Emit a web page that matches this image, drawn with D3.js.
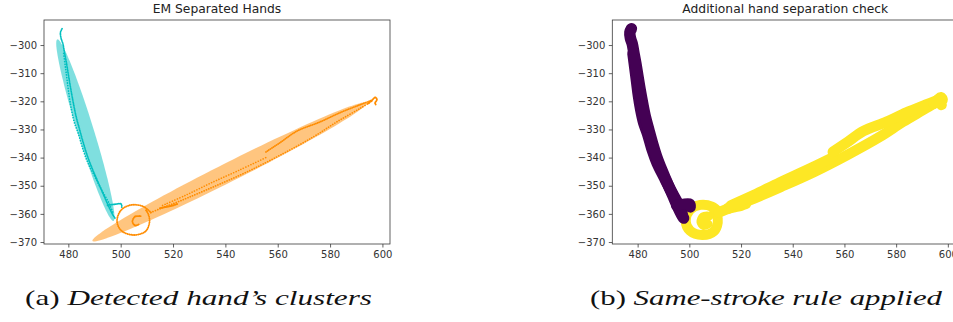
<!DOCTYPE html>
<html><head><meta charset="utf-8">
<script src="https://cdn.jsdelivr.net/npm/d3@7"></script>
<style>body{margin:0;background:#fff}svg{display:block}</style>
</head><body>
<svg id="c" width="953" height="322"></svg>
<script>
// ---------- data ----------
const xTicks = [480, 500, 520, 540, 560, 580, 600];
const yTicks = [-300, -310, -320, -330, -340, -350, -360, -370];
const titles = ["EM Separated Hands", "Additional hand separation check"];
const captionLabels = ["(a) ", "(b) "];
const captionTexts = ["Detected hand\u2019s clusters", "Same-stroke rule applied"];

// hand 1 (cyan / purple) strokes: [x, y]
const hand1Main = [[477.6,-294.2],[477.0,-295.5],[477.2,-297.5],[477.9,-299.5],[478.5,-302.5],[479.3,-306.5],[480.1,-311],[481.0,-316],[482.0,-321],[483.0,-325.5],[484.3,-330],[485.8,-335],[487.5,-340],[489.4,-344.5],[491.5,-349],[493.6,-353.5],[495.5,-357.5],[497.0,-360.3],[497.8,-361.5]];
const hand1Side = [[478.2,-303],[478.9,-308],[479.6,-313],[480.3,-318],[481.2,-323],[482.3,-327.5],[483.8,-331.4],[485.7,-337.4],[487.6,-342.1],[490.2,-346.9],[492.8,-351.6],[495.3,-355.8],[497.2,-359.9]];
const hand1Branch = [[495.0,-357.0],[497.5,-356.6],[500.2,-356.5],[500.4,-357.6]];

// hand 2 (orange / yellow) strokes
const hand2Loop = [[511.5,-359.5],[508.7,-357.4],[504.2,-356.8],[500.2,-358.6],[498.6,-362.6],[500.3,-366.0],[505.0,-367.5],[509.5,-366.2],[511.0,-363.0],[510.6,-360.2],[509.5,-358.5]];
const hand2Inner = [[507.6,-360.8],[505.4,-361.0],[504.5,-362.8],[505.5,-364.1],[507.2,-363.6]];
const hand2Dense = [[515.0,-358.0],[517.5,-357.5],[520.0,-357.0],[521.8,-356.4]];
const hand2Lower = [[511.5,-359.5],[516,-357.8],[522.7,-355.4],[535.4,-350.4],[548.2,-345.1],[561,-339.1],[573.7,-332.6],[582.6,-327.3],[591.5,-322.5],[596.6,-319.6]];
const hand2Mid = [[516,-357.0],[525,-353.3],[535,-348.8],[545,-344.6],[555.5,-340]];
const hand2Upper = [[555.5,-338.0],[561,-334.6],[567.3,-330.6],[576.2,-327.3],[583.9,-324.0],[591.5,-321.2],[596,-319.6]];
const hand2Hook = [[594.5,-320.8],[596.0,-319.6],[597.3,-318.6],[597.9,-319.4],[597.2,-320.6],[597.5,-321.2]];

// Gaussian cluster ellipses (data units): centre, semi-axes, angle in degrees
const ellipseCentres = [[486.5,-330.25],[541.65,-345.05]];
const ellipseAxes = [[34.0,3.1],[57.9,3.45]];
const ellipseAngles = [-71.6, 25.08];

// ---------- drawing ----------
const svg = d3.select("#c");
const panels = [
  {x0:44, x1:390, y0:20, y1:244, xd:[470.7,602.9]},
  {x0:612.3, x1:958.3, y0:20, y1:244, xd:[470.2,604.05]}
];
const yd = [-370.7, -291.1];
const frameCol = "#3a3a3a", textCol = "#333";

panels.forEach((p, i) => {
  p.x = d3.scaleLinear().domain(p.xd).range([p.x0, p.x1]);
  p.y = d3.scaleLinear().domain(yd).range([p.y1, p.y0]);
  const g = svg.append("g");
  const cid = "clip" + i;
  svg.append("clipPath").attr("id", cid).append("rect")
    .attr("x", p.x0).attr("y", p.y0).attr("width", p.x1 - p.x0).attr("height", p.y1 - p.y0);
  p.data = g.append("g").attr("clip-path", `url(#${cid})`);
  p.g = g;
});

const line = (p) => d3.line().x(d => p.x(d[0])).y(d => p.y(d[1])).curve(d3.curveCatmullRom.alpha(0.5));

// left panel: ellipses + small dotted traces
{
  const p = panels[0];
  const ellCols = ["#00bfbf", "#ff8c00"];
  ellipseCentres.forEach((c, k) => {
    const [a, b] = ellipseAxes[k];
    const th = ellipseAngles[k] * Math.PI / 180;
    const pts = d3.range(0, 360, 3).map(t => {
      const r = t * Math.PI / 180;
      return [c[0] + a*Math.cos(r)*Math.cos(th) - b*Math.sin(r)*Math.sin(th),
              c[1] + a*Math.cos(r)*Math.sin(th) + b*Math.sin(r)*Math.cos(th)];
    });
    p.data.append("path").attr("d", d3.line().x(d => p.x(d[0])).y(d => p.y(d[1])).curve(d3.curveLinearClosed)(pts))
      .attr("fill", ellCols[k]).attr("fill-opacity", 0.5).attr("stroke", "none");
  });
  const traces = [
    [hand1Side, "#00bfbf", "0.1,2.6", 1.7],
    [hand1Main, "#00bfbf", "0.1,1.5", 1.8],
    [hand1Branch, "#00bfbf", "0.1,1.3", 1.8],
    [hand2Loop, "#ff8c00", "0.1,1.7", 1.9],
    [hand2Inner, "#ff8c00", "0.1,1.3", 1.9],
    [hand2Dense, "#ff8c00", "0.1,1.0", 2.0],
    [hand2Lower, "#ff8c00", "0.1,2.4", 1.7],
    [hand2Mid, "#ff8c00", "0.1,2.6", 1.6],
    [hand2Upper, "#ff8c00", "0.1,1.7", 1.8],
    [hand2Hook, "#ff8c00", "0.1,1.0", 1.9]
  ];
  traces.forEach(([d, col, dash, w]) => {
    p.data.append("path").attr("d", line(p)(d)).attr("fill", "none")
      .attr("stroke", col).attr("stroke-width", w).attr("stroke-linecap", "round")
      .attr("stroke-linejoin", "round").attr("stroke-dasharray", dash);
  });
}

// right panel: large markers (viridis)
{
  const p = panels[1];
  const yellow = "#fde725", purple = "#440154";
  const traces = [
    [hand2Loop, yellow, 10], [hand2Inner, yellow, 9], [hand2Dense, yellow, 11], [hand2Lower, yellow, 10.5],
    [hand2Mid, yellow, 10.5], [hand2Upper, yellow, 10.5], [hand2Hook, yellow, 11],
    [hand1Side, purple, 11.5], [hand1Main, purple, 11.5], [hand1Branch, purple, 11]
  ];
  traces.forEach(([d, col, w]) => {
    p.data.append("path").attr("d", line(p)(d)).attr("fill", "none")
      .attr("stroke", col).attr("stroke-width", w).attr("stroke-linecap", "round")
      .attr("stroke-linejoin", "round");
  });
}

// axes, frames, titles
panels.forEach((p, i) => {
  const ax = p.g.append("g").attr("transform", `translate(0,${p.y1})`)
    .call(d3.axisBottom(p.x).tickValues(xTicks).tickSize(3.5).tickPadding(3.5).tickFormat(d3.format("d")));
  const ay = p.g.append("g").attr("transform", `translate(${p.x0},0)`)
    .call(d3.axisLeft(p.y).tickValues(yTicks).tickSize(3.5).tickPadding(3.5).tickFormat(d3.format("d")));
  [ax, ay].forEach(a => {
    a.select(".domain").remove();
    a.selectAll("line").attr("stroke", frameCol).attr("stroke-width", 0.8);
    a.selectAll("text").attr("fill", textCol).style("font-family", "DejaVu Sans").style("font-size", "10px");
  });
  p.g.append("rect").attr("x", p.x0).attr("y", p.y0).attr("width", p.x1 - p.x0).attr("height", p.y1 - p.y0)
    .attr("fill", "none").attr("stroke", frameCol).attr("stroke-width", 0.8);
  p.g.append("text").attr("x", (p.x0 + p.x1) / 2).attr("y", 13).attr("text-anchor", "middle")
    .style("font-family", "DejaVu Sans").style("font-size", "12.3px").attr("fill", "#222").text(titles[i]);
});

// captions
const capPos = [[25, 347], [590, 352]];
captionTexts.forEach((t, i) => {
  const tx = svg.append("text").attr("x", capPos[i][0]).attr("y", 305)
    .style("font-family", "Liberation Serif").style("font-size", "21px").attr("fill", "#111")
    .attr("textLength", capPos[i][1]).attr("lengthAdjust", "spacingAndGlyphs");
  tx.append("tspan").text(captionLabels[i]);
  tx.append("tspan").style("font-style", "italic").text(t);
});
</script>
</body></html>
